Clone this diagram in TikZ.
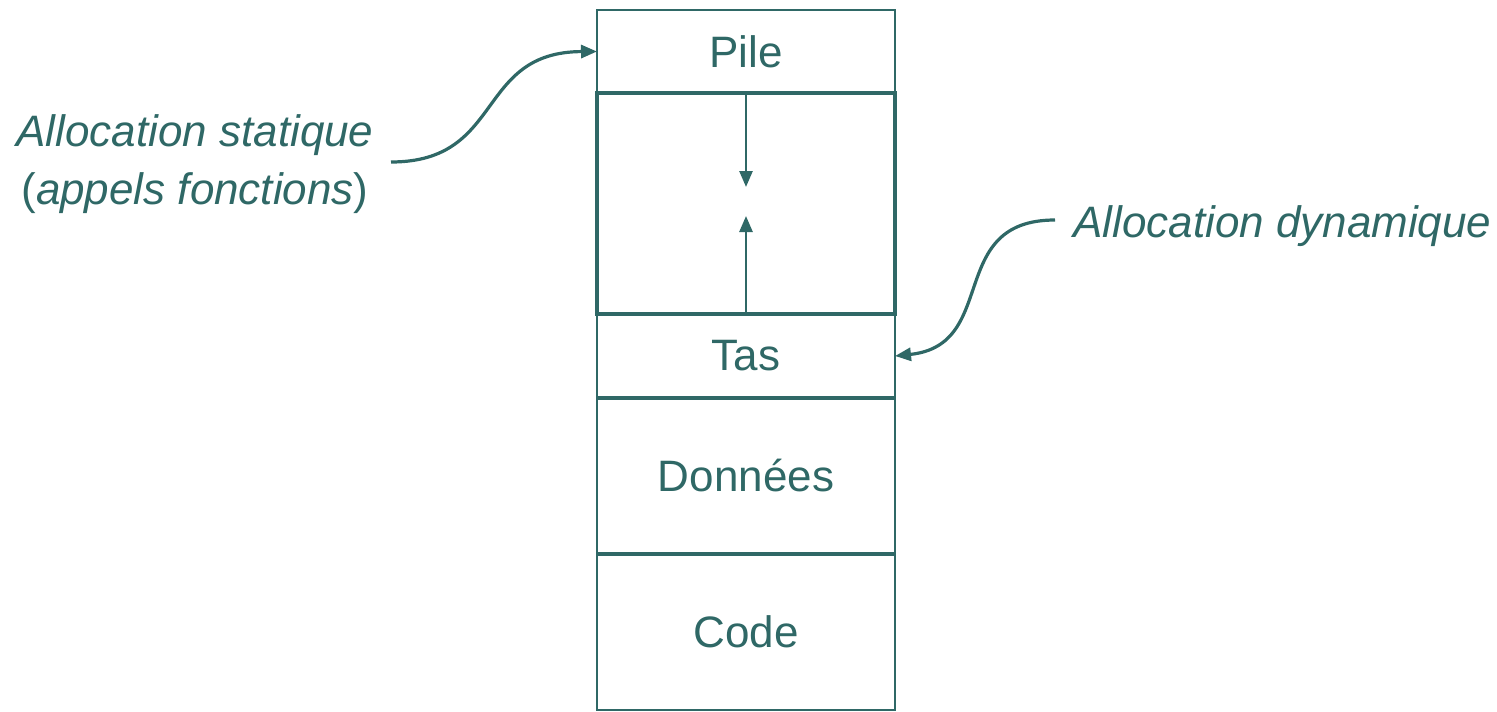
\documentclass[tikz,border=0pt]{standalone}
\usepackage{fontspec}
\setmainfont{Liberation Sans}
\usetikzlibrary{arrows.meta}
\definecolor{tealc}{RGB}{47,104,102}
\begin{document}
\begin{tikzpicture}[x=1pt,y=-1pt,
  cell/.style={draw=tealc, line width=2.5pt, minimum width=298pt, inner sep=0pt, outer sep=0pt, text=tealc, font=\fontsize{44}{52}\selectfont},
  thickcell/.style={cell, line width=4pt},
  sepline/.style={draw=tealc, line width=3.5pt},
  lbl/.style={text=tealc, font=\fontsize{44}{58}\selectfont\itshape, align=center, inner sep=0pt},
  arr/.style={draw=tealc, line width=2.6pt, -{Triangle[length=16pt,width=13pt]}},
  curvearr/.style={arr, line width=3.2pt}
]
\useasboundingbox (0,0) rectangle (1497,712);
\node[cell, minimum height=83pt] (pile) at (746,51.5) {Pile};
\node[cell, minimum height=84pt] (tas) at (746,356) {Tas};
\node[cell, minimum height=156pt] (data) at (746,476) {Données};
\node[cell, minimum height=156pt] (code) at (746,632) {Code};
\node[thickcell, minimum height=221pt] (mid) at (746,203.5) {};
\draw[sepline] (data.north west) -- (data.north east);
\draw[sepline] (code.north west) -- (code.north east);
\coordinate (dtip) at (746,187);
\coordinate (utip) at (746,216);
\draw[arr] (mid.north) -- (dtip);
\draw[arr] (mid.south) -- (utip);
\node[lbl] (stat) at (195,164) {Allocation statique\\{\upshape(}appels fonctions{\upshape)}};
\node[lbl, anchor=base west] (dyn) at (1073,237) {Allocation dynamique};
\coordinate (s0) at (391,162);
\coordinate (d0) at (1055,220);
\draw[curvearr] (s0) .. controls (505,162) and (475,52) .. (pile.west);
\draw[curvearr] (d0) .. controls (945,220) and (1000,345) .. (tas.east);
\end{tikzpicture}
\end{document}
